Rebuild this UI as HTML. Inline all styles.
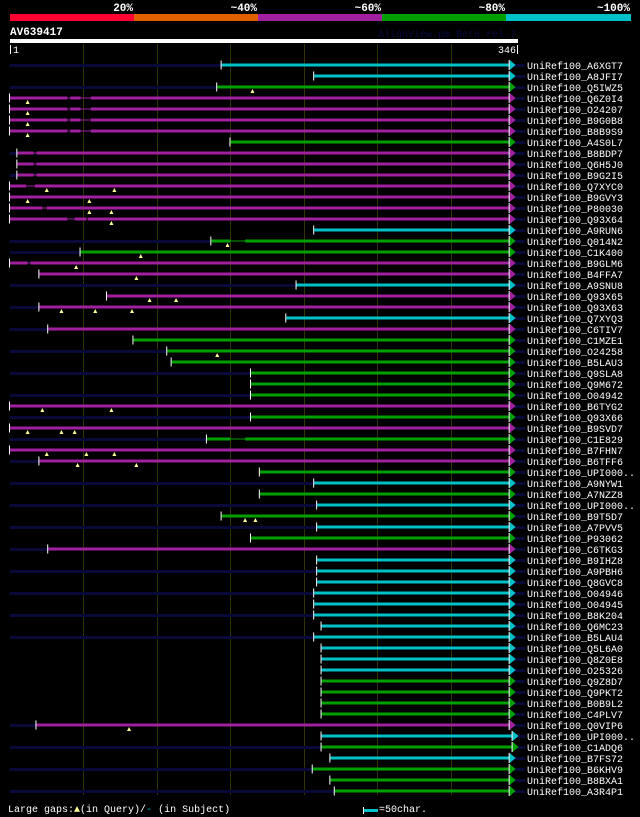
<!DOCTYPE html>
<html><head><meta charset="utf-8"><style>
body{margin:0;background:#000;width:640px;height:817px;overflow:hidden;font-family:"Liberation Mono",monospace;}
svg{display:block}
</style></head><body>
<svg id="c" width="640" height="817" xmlns="http://www.w3.org/2000/svg">
<rect x="10" y="14" width="124" height="7" fill="#ff0033"/>
<rect x="134" y="14" width="124" height="7" fill="#e06000"/>
<rect x="258" y="14" width="124" height="7" fill="#a020a0"/>
<rect x="382" y="14" width="124" height="7" fill="#00a000"/>
<rect x="506" y="14" width="125" height="7" fill="#00c0c8"/>
<g font-size="11" font-weight="bold" fill="#fff" text-anchor="end" font-family="Liberation Mono, monospace">
<text x="133" y="11">20%</text>
<text x="257" y="11">~40%</text>
<text x="381" y="11">~60%</text>
<text x="505" y="11">~80%</text>
<text x="630" y="11">~100%</text>
</g>
<text x="10" y="35" font-size="11" font-weight="bold" fill="#fff">AV639417</text>
<text x="516" y="37" font-size="10" fill="#0a0a40" text-anchor="end">AlignView.pm Beta rel.7</text>
<rect x="10" y="39" width="508" height="4" fill="#fff"/>
<rect x="10" y="45" width="1" height="9" fill="#fff"/>
<text x="13" y="53" font-size="10" fill="#fff">1</text>
<rect x="517" y="45" width="1" height="9" fill="#fff"/>
<text x="516" y="53" font-size="10" fill="#fff" text-anchor="end">346</text>
<g id="grid"></g>
<g id="rows"></g>
<text x="8" y="812" font-size="10" fill="#fff">Large gaps:<tspan fill="#ffff99">▲</tspan>(in Query)/<tspan fill="#00c0c8">-</tspan> (in Subject)</text>
<rect x="363" y="807" width="1" height="7" fill="#fff"/>
<rect x="364" y="809" width="14" height="3" fill="#00c0c8"/>
<text x="379" y="812" font-size="10" fill="#fff">=50char.</text>
</svg>
<script>
const names=["A6XGT7","A8JFI7","Q5IWZ5","Q6Z0I4","O24207","B9G0B8","B8B9S9","A4S0L7","B8BDP7","Q6H5J0","B9G2I5","Q7XYC0","B9GVY3","P80030","Q93X64","A9RUN6","Q014N2","C1K400","B9GLM6","B4FFA7","A9SNU8","Q93X65","Q93X63","Q7XYQ3","C6TIV7","C1MZE1","O24258","B5LAU3","Q9SLA8","Q9M672","O04942","B6TYG2","Q93X66","B9SVD7","C1E829","B7FHN7","B6TFF6","UPI000..","A9NYW1","A7NZZ8","UPI000..","B9T5D7","A7PVV5","P93062","C6TKG3","B9IHZ8","A9PBH6","Q8GVC8","O04946","O04945","B8K204","Q6MC23","B5LAU4","Q5L6A0","Q8Z0E8","O25326","Q9Z8D7","Q9PKT2","B0B9L2","C4PLV7","Q0VIP6","UPI000..","C1ADQ6","B7FS72","B6KHV9","B8BXA1","A3R4P1"];
const identity=["c","c","g","m","m","m","m","g","m","m","m","m","m","m","m","c","g","g","m","m","c","m","m","c","m","g","g","g","g","g","g","m","g","m","g","m","m","g","c","g","c","g","c","g","m","c","c","c","c","c","c","c","c","c","c","c","g","g","g","g","m","c","g","c","g","g","g"];
const starts=[145,208,142,1,1,1,1,151,6,6,6,1,1,1,1,208,138,49,1,21,196,67,21,189,27,85,108,111,165,165,165,1,165,1,135,1,21,171,208,171,210,145,210,165,27,210,210,210,208,208,208,213,208,213,213,213,213,213,213,213,19,213,213,219,207,219,222];
const ends=[341,341,341,341,341,341,341,341,341,341,341,341,341,341,341,341,341,341,341,341,341,341,341,341,341,341,341,341,341,341,341,341,341,341,341,341,341,341,341,341,341,341,341,341,341,341,341,341,341,341,341,341,341,341,341,341,341,341,341,341,341,343,343,341,341,341,341];
const hasPrefix=[1,0,1,0,1,0,1,0,1,0,1,0,1,0,1,0,1,1,0,0,1,0,1,0,1,0,1,0,1,0,1,0,1,0,1,0,1,0,1,0,1,0,1,0,1,0,1,0,1,0,1,0,1,0,0,0,0,0,0,0,1,0,1,0,1,0,1];
const queryGaps=[[],[],[[166]],[[13]],[[13]],[[13]],[[13]],[],[],[],[],[[26],[72]],[[13],[55]],[[55],[70]],[[70]],[],[[149]],[[90]],[[46]],[[87]],[],[[96],[114]],[[36],[59],[84]],[],[],[],[[142]],[],[],[],[],[[23],[70]],[],[[13],[36],[45]],[],[[26],[53],[72]],[[47],[87]],[],[],[],[],[[161],[168]],[],[],[],[],[],[],[],[],[],[],[],[],[],[],[],[],[],[],[[82]],[],[],[],[],[],[]];
const subjGaps=[[],[],[],[[40,42],[49,56]],[[40,42],[49,56]],[[40,42],[49,56]],[[40,42],[49,56]],[],[[17,19]],[[17,19]],[[17,19]],[[12,18]],[],[[23,26]],[[40,45],[53,54]],[],[[151,161]],[],[[13,15]],[],[],[],[],[],[],[],[],[],[],[],[],[],[],[],[[151,161]],[],[],[],[],[],[],[],[],[],[],[],[],[],[],[],[],[],[],[],[],[],[],[],[],[],[],[],[],[],[],[],[]];
const gridTicks=[51,101,151,201,251,301];
const COLORS={c:"#00c0c8",g:"#00a000",m:"#a020a0"};
const X=r=>10+(r-1)*(507/345);
const Y=i=>65+i*11;
const NS="http://www.w3.org/2000/svg";
function mk(t,a,p){const e=document.createElementNS(NS,t);for(const k in a)e.setAttribute(k,a[k]);p.appendChild(e);return e;}
const grid=document.getElementById('grid');
gridTicks.forEach(t=>{
  const l=mk('rect',{x:Math.round(X(t)),y:44,width:1,height:751,fill:'#333300'},grid);
  
  
});
const rows=document.getElementById('rows');
names.forEach((n,i)=>{
  const g=mk('g',{},rows);
  
  
  const y=Y(i),col=COLORS[identity[i]];
  const sx=X(starts[i]),ex=X(ends[i]);
  if(hasPrefix[i]){const d=mk('rect',{x:10,y:y-1,width:sx-10,height:3,fill:'#0a0a3a'},g);}
  const tail=mk('rect',{x:ex,y:y-1,width:525-ex,height:3,fill:'#0a0a3a'},g);
  
  // segments split by subject gaps
  let cur=starts[i];const segs=[];
  subjGaps[i].forEach(([a,b])=>{segs.push([cur,a,1]);segs.push([a,b,0]);cur=b;});
  segs.push([cur,ends[i],1]);
  segs.forEach(([a,b,thick])=>{
    const r=mk('rect',{x:X(a),y:thick?y-1.5:y-0.5,width:X(b)-X(a),height:thick?3:1,fill:col},g);
    
    
  });
  const tk=mk('rect',{x:sx-1,y:y-4.5,width:1,height:9,fill:'#fff'},g);
  
  const ar=mk('polygon',{points:`${ex},${y-5} ${ex+6},${y} ${ex},${y+5}`,fill:col},g);
  
  const ar2=mk('rect',{x:ex-1,y:y-5,width:1,height:10,fill:'#fff'},g);
  
  queryGaps[i].forEach(([q])=>{
    const t=mk('polygon',{points:`${X(q)-2},${y+6} ${X(q)},${y+2} ${X(q)+2},${y+6}`,fill:'#ffff99'},g);
    
  });
  const tx=mk('text',{x:527,y:y+4,'font-size':10,fill:'#fff'},g);
  tx.textContent='UniRef100_'+n;
  
  
});
</script>
</body></html>
